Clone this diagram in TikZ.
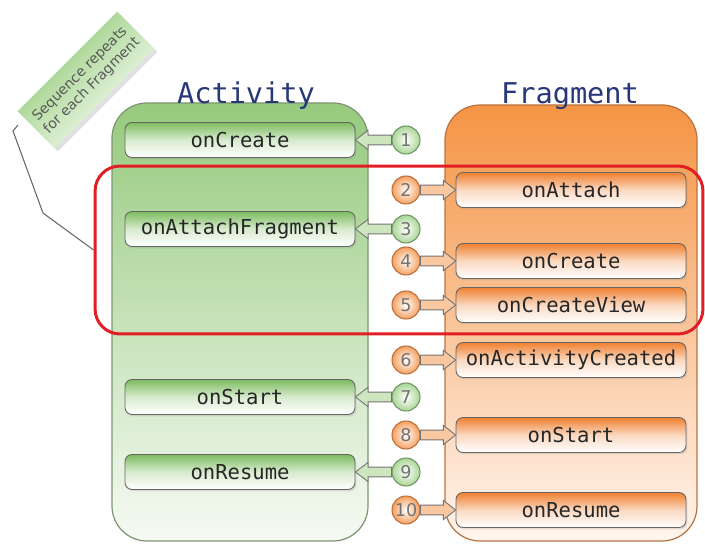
\documentclass[tikz,border=0pt]{standalone}
\usepackage{fontspec}
\usepackage{tikz}
\usetikzlibrary{calc, shadows}
\newfontfamily\codefont{DejaVu Sans Mono}
\newfontfamily\notefont{DejaVu Sans}
\definecolor{actgreen}{RGB}{150,202,125}
\definecolor{actlight}{RGB}{246,250,244}
\definecolor{actline}{RGB}{125,150,115}
\definecolor{fragorange}{RGB}{245,148,68}
\definecolor{fraglight}{RGB}{255,245,238}
\definecolor{fragline}{RGB}{185,115,65}
\definecolor{titleblue}{RGB}{40,55,120}
\definecolor{boxgreen}{RGB}{125,188,95}
\definecolor{boxorange}{RGB}{240,128,48}
\definecolor{numgline}{RGB}{110,150,100}
\definecolor{numgfill}{RGB}{170,214,150}
\definecolor{numoline}{RGB}{185,110,60}
\definecolor{numofill}{RGB}{245,160,95}
\definecolor{arrowgreen}{RGB}{205,230,190}
\definecolor{arroworange}{RGB}{250,200,160}
\definecolor{groupred}{RGB}{225,30,35}
\definecolor{notegreen}{RGB}{140,200,110}

\begin{document}
\begin{tikzpicture}[x=0.02cm, y=-0.02cm,
  lane/.style={rounded corners=0.7cm, line width=0.7pt},
  title/.style={anchor=base, text=titleblue, font=\codefont\fontsize{16.3}{18}\selectfont},
  method/.style={rounded corners=0.14cm, draw=black!60, line width=0.5pt, minimum width=4.6cm, minimum height=0.7cm, inner sep=1pt, text=black!85, font=\codefont\fontsize{11.7}{13}\selectfont, drop shadow={opacity=0.2, shadow xshift=0.03cm, shadow yshift=-0.04cm}},
  actm/.style={method, top color=boxgreen, bottom color=white, middle color=boxgreen!30},
  fragm/.style={method, top color=boxorange, bottom color=white, middle color=boxorange!30},
  num/.style={circle, minimum size=0.56cm, inner sep=0pt, line width=0.6pt, text=black!55, font=\notefont\fontsize{10}{10}\selectfont},
  numg/.style={num, draw=numgline, inner color=white, outer color=numgfill},
  numo/.style={num, draw=numoline, inner color=white, outer color=numofill},
  blockarrow/.style={to path={
    let \p1=(\tikztostart), \p2=(\tikztotarget), \n1={\x2-\x1} in
    (\x1,\y1+2.8pt) -- (\x1+0.65*\n1,\y1+2.8pt) -- (\x1+0.65*\n1,\y1+5.5pt) -- (\x2,\y1)
    -- (\x1+0.65*\n1,\y1-5.5pt) -- (\x1+0.65*\n1,\y1-2.8pt) -- (\x1,\y1-2.8pt) -- cycle}},
  garrow/.style={blockarrow, draw=black!55, line width=0.5pt, fill=arrowgreen},
  oarrow/.style={blockarrow, draw=black!55, line width=0.5pt, fill=arroworange},
  group/.style={draw=groupred, line width=1.7pt, rounded corners=0.5cm, minimum width=12.16cm, minimum height=3.36cm, inner sep=0pt},
  note/.style={minimum width=2.8cm, minimum height=1.05cm, top color=notegreen, bottom color=white, shading angle=45, align=center, text=black!65, font=\notefont\fontsize{8}{9.5}\selectfont, drop shadow={opacity=0.25, shadow xshift=0.06cm, shadow yshift=-0.06cm}}]
\useasboundingbox (0,0) rectangle (705,546);

% Lanes
\draw[lane, draw=actline, top color=actgreen, bottom color=actlight] (112,103) rectangle (368,541);
\draw[lane, draw=fragline, top color=fragorange, bottom color=fraglight] (445,105) rectangle (697,541);
\node[title] (actT) at (246,104) {Activity};
\node[title] (fragT) at (570,104) {Fragment};

% Activity callbacks
\node[actm] (aCreate) at (240,140) {onCreate};
\node[actm] (aAttach) at (240,229) {onAttachFragment};
\node[actm] (aStart) at (240,397) {onStart};
\node[actm] (aResume) at (240,472) {onResume};

% Fragment callbacks
\node[fragm] (fAttach) at (571,190) {onAttach};
\node[fragm] (fCreate) at (571,261) {onCreate};
\node[fragm] (fView) at (571,305) {onCreateView};
\node[fragm] (fActCreated) at (571,360) {onActivityCreated};
\node[fragm] (fStart) at (571,435) {onStart};
\node[fragm] (fResume) at (571,510) {onResume};

% Numbered steps
\node[numg] (n1) at (406,140) {1};
\node[numo] (n2) at (406,190) {2};
\node[numg] (n3) at (406,229) {3};
\node[numo] (n4) at (406,261) {4};
\node[numo] (n5) at (406,305) {5};
\node[numo] (n6) at (406,360) {6};
\node[numg] (n7) at (406,397) {7};
\node[numo] (n8) at (406,435) {8};
\node[numg] (n9) at (406,472) {9};
\node[numo] (n10) at (406,510) {10};

% Arrows
\draw[garrow] (n1.west) to (aCreate.east);
\draw[oarrow] (n2.east) to (fAttach.west);
\draw[garrow] (n3.west) to (aAttach.east);
\draw[oarrow] (n4.east) to (fCreate.west);
\draw[oarrow] (n5.east) to (fView.west);
\draw[oarrow] (n6.east) to (fActCreated.west);
\draw[garrow] (n7.west) to (aStart.east);
\draw[oarrow] (n8.east) to (fStart.west);
\draw[garrow] (n9.west) to (aResume.east);
\draw[oarrow] (n10.east) to (fResume.west);

% Repeated group and its note
\node[group] (grp) at (399,250) {};
\node[note, rotate=45] (note) at (86,80) {Sequence repeats\\for each Fragment};
\coordinate (tick) at (18,125);
\draw[black!60, line width=0.6pt] (tick) -- (13,131) -- (43,213) -- (grp.west);
\end{tikzpicture}
\end{document}
